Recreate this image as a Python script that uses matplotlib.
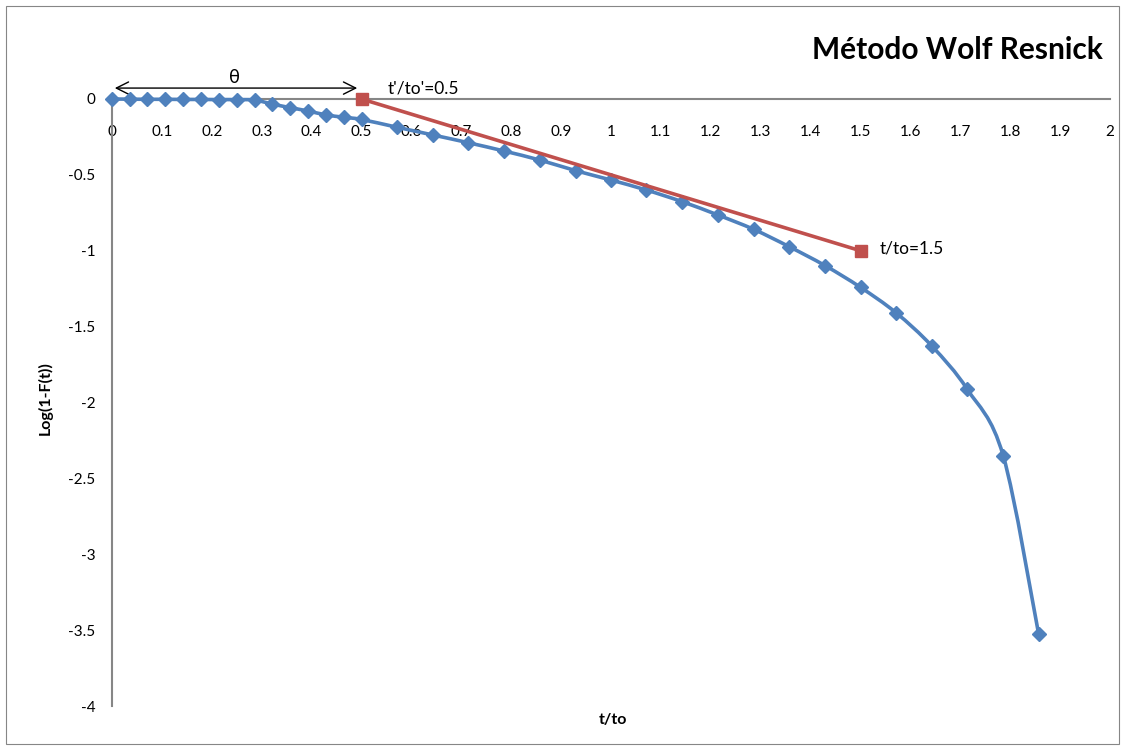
import numpy as np
import matplotlib
matplotlib.use("Agg")
import matplotlib.pyplot as plt
from matplotlib.path import Path
from matplotlib.patches import PathPatch, Rectangle

BLUE = "#4F81BD"
RED = "#C0504D"
AXIS = "#868686"

# data
t_ratio = [0, 0.036, 0.071, 0.107, 0.143, 0.179, 0.214, 0.25, 0.286, 0.321,
           0.357, 0.393, 0.429, 0.464, 0.5,
           0.571, 0.643, 0.714, 0.786, 0.857, 0.929, 1.0, 1.071, 1.143,
           1.214, 1.286, 1.357, 1.429, 1.5, 1.571, 1.643, 1.714, 1.786, 1.857]
log_surv = [0, -0.001, -0.002, -0.002, -0.003, -0.003, -0.004, -0.004, -0.007, -0.033,
            -0.057, -0.079, -0.105, -0.12, -0.135,
            -0.186, -0.237, -0.288, -0.343, -0.402, -0.472, -0.534, -0.6, -0.677,
            -0.764, -0.859, -0.973, -1.098, -1.241, -1.408, -1.628, -1.913, -2.351, -3.526]

tangent_x = [0.5, 1.5]
tangent_y = [0.0, -1.0]

x_ticks = [0, 0.1, 0.2, 0.3, 0.4, 0.5, 0.6, 0.7, 0.8, 0.9, 1, 1.1, 1.2, 1.3,
           1.4, 1.5, 1.6, 1.7, 1.8, 1.9, 2]
x_labels = ["0", "0.1", "0.2", "0.3", "0.4", "0.5", "0.6", "0.7", "0.8", "0.9", "1",
            "1.1", "1.2", "1.3", "1.4", "1.5", "1.6", "1.7", "1.8", "1.9", "2"]
y_ticks = [-4, -3.5, -3, -2.5, -2, -1.5, -1, -0.5, 0]
y_labels = ["-4", "-3.5", "-3", "-2.5", "-2", "-1.5", "-1", "-0.5", "0"]


def smooth_path(xs, ys, k=1 / 6):
    # excel-style smoothed line: cubic bezier through every point
    p = np.column_stack([xs, ys]).astype(float)
    n = len(p)
    verts = [p[0]]
    codes = [Path.MOVETO]
    for i in range(n - 1):
        p0 = p[i - 1] if i > 0 else p[i]
        p3 = p[i + 2] if i + 2 < n else p[i + 1]
        c1 = p[i] + (p[i + 1] - p0) * k
        c2 = p[i + 1] - (p3 - p[i]) * k
        verts += [c1, c2, p[i + 1]]
        codes += [Path.CURVE4] * 3
    return Path(verts, codes)


plt.rcParams["font.family"] = ["Lato", "DejaVu Sans"]

fig = plt.figure(figsize=(11.25, 7.49), dpi=100, facecolor="white")
fig.patches.append(Rectangle((6 / 1125, 5 / 749), 1113 / 1125, 738 / 749,
                             transform=fig.transFigure, fill=False,
                             edgecolor=AXIS, lw=0.8))

ax = fig.add_axes([112 / 1125, 1 - 706 / 749, 998 / 1125, 607 / 749])
ax.set_xlim(0, 2)
ax.set_ylim(-4, 0)

# blue smoothed curve with diamonds
ax.add_patch(PathPatch(smooth_path(t_ratio, log_surv), fill=False,
                       edgecolor=BLUE, lw=2.6, clip_on=False, zorder=3))
ax.plot(t_ratio, log_surv, linestyle="none", marker="D", markersize=7.5,
        color=BLUE, clip_on=False, zorder=4)

# red tangent line
ax.plot(tangent_x, tangent_y, color=RED, lw=2.6, marker="s", markersize=8.5,
        clip_on=False, zorder=5)

for s in ["top", "right"]:
    ax.spines[s].set_visible(False)
ax.spines["bottom"].set_position(("data", 0))
ax.spines["bottom"].set_color(AXIS)
ax.spines["left"].set_color(AXIS)
ax.spines["bottom"].set_linewidth(1.5)
ax.spines["left"].set_linewidth(1.5)

ax.set_xticks(x_ticks)
ax.set_xticklabels(x_labels)
ax.set_yticks(y_ticks)
ax.set_yticklabels(y_labels)
ax.tick_params(axis="x", length=0, pad=19, labelsize=11)
ax.tick_params(axis="y", length=0, pad=12, labelsize=11)

# annotations above the axis
ax.annotate("", xy=(0.0, 0.072), xytext=(0.497, 0.072),
            arrowprops=dict(arrowstyle="<->", color="black", lw=1,
                            mutation_scale=22),
            annotation_clip=False)
ax.text(0.246, 0.14, "θ", ha="center", va="center", fontsize=13,
        family=["DejaVu Sans"])
ax.text(0.553, 0.072, "t'/to'=0.5", ha="left", va="center", fontsize=12.5)
ax.text(1.539, -0.982, "t/to=1.5", ha="left", va="center", fontsize=12.5)

fig.text(1103 / 1125, 1 - 50 / 749, "Método Wolf Resnick", ha="right",
         va="center", fontsize=21.5, fontweight="bold")
fig.text(45 / 1125, 1 - 398 / 749, "Log(1-F(t))", ha="center", va="center",
         rotation=90, fontsize=11.5, fontweight="bold")
fig.text(613 / 1125, 1 - 720 / 749, "t/to", ha="center", va="center",
         fontsize=11.5, fontweight="bold")

fig.savefig("out.png", dpi=100, facecolor="white")
